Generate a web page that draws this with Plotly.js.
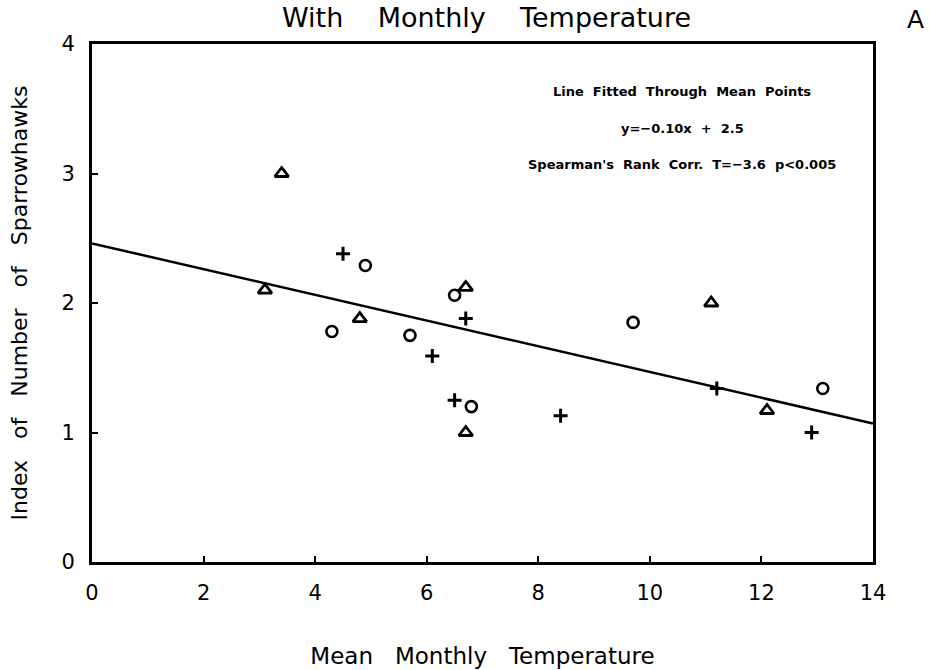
<!DOCTYPE html>
<html>
<head>
<meta charset="utf-8">
<script src="https://cdn.plot.ly/plotly-3.0.1.min.js"></script>
<style>html,body{margin:0;padding:0;background:#fff;}#chart{width:930px;height:670px;}</style>
</head>
<body>
<div id="chart"></div>
<script>
// Series
var triX = [3.1, 3.4, 4.8, 6.7, 6.7, 11.1, 12.1];
var triY = [2.1, 3.0, 1.88, 2.12, 1.0, 2.0, 1.17];
var cirX = [4.3, 4.9, 5.7, 6.5, 6.8, 9.7, 13.1];
var cirY = [1.78, 2.29, 1.75, 2.06, 1.2, 1.85, 1.34];
var plusX = [4.5, 6.1, 6.5, 6.7, 8.4, 11.2, 12.9];
var plusY = [2.38, 1.59, 1.25, 1.88, 1.13, 1.34, 1.0];
var lineX = [0, 14];
var lineY = [2.46, 1.07];
var xTicks = [0, 2, 4, 6, 8, 10, 12, 14];
var yTicks = [0, 1, 2, 3, 4];
var noteLines = ["Line  Fitted  Through  Mean  Points", "y=\u22120.10x  +  2.5", "Spearman's  Rank  Corr.  T=\u22123.6  p<0.005"];
var noteY = [3.63, 3.35, 3.07];

var sp = function(s){ return s.replace(/ /g, '\u00a0'); };
var mk = function(sym, size, w){ return {symbol: sym, size: size, color: '#000', line: {color: '#000', width: w}}; };
var data = [
  {x: lineX, y: lineY, mode: 'lines', line: {color: '#000', width: 2.5}, hoverinfo: 'skip'},
  {x: triX, y: triY, mode: 'markers', marker: mk('triangle-up-open', 12, 2.8)},
  {x: cirX, y: cirY, mode: 'markers', marker: mk('circle-open', 11, 2.6)},
  {x: plusX, y: plusY, mode: 'markers', marker: mk('cross-thin-open', 10, 3)}
];

var fam = 'DejaVu Sans, sans-serif';
var ann = noteLines.map(function(t, i){
  return {x: 10.58, y: noteY[i], xref: 'x', yref: 'y', text: sp(t), showarrow: false,
    font: {family: 'DejaVu Sans, sans-serif', size: 13, color: '#000', weight: 'bold'}};
});
ann.push({x: 0.505, y: 1.051, xref: 'paper', yref: 'paper', text: sp('With    Monthly    Temperature'), showarrow: false,
  yanchor: 'middle', font: {family: fam, size: 27, color: '#000'}});
ann.push({x: 1.068, y: 1.08, xref: 'paper', yref: 'paper', text: 'A', showarrow: false,
  font: {family: fam, size: 25, color: '#000'}});

var layout = {
  width: 930, height: 670,
  margin: {l: 92, r: 57, t: 44, b: 108},
  paper_bgcolor: '#fff', plot_bgcolor: '#fff',
  showlegend: false,
  font: {family: fam, color: '#000'},
  xaxis: {
    range: [0, 14], tickvals: xTicks, ticktext: xTicks.map(String),
    ticks: 'inside', ticklen: 6, tickwidth: 2, tickcolor: '#000',
    showline: true, linewidth: 3, linecolor: '#000', mirror: true,
    showgrid: false, zeroline: false, ticklabelstandoff: 10,
    tickfont: {family: fam, size: 21, color: '#000'},
    title: {text: sp('Mean   Monthly   Temperature'), standoff: 44, font: {family: fam, size: 23, color: '#000'}}
  },
  yaxis: {
    range: [0, 4], tickvals: yTicks, ticktext: yTicks.map(String),
    ticks: 'inside', ticklen: 6, tickwidth: 2, tickcolor: '#000',
    showline: true, linewidth: 3, linecolor: '#000', mirror: true,
    showgrid: false, zeroline: false, ticklabelstandoff: 10,
    tickfont: {family: fam, size: 21, color: '#000'},
    title: {text: sp('Index   of   Number   of   Sparrowhawks'), standoff: 28, font: {family: fam, size: 22, color: '#000'}}
  },
  annotations: ann
};
Plotly.newPlot('chart', data, layout, {displayModeBar: false, staticPlot: true});
</script>
</body>
</html>
